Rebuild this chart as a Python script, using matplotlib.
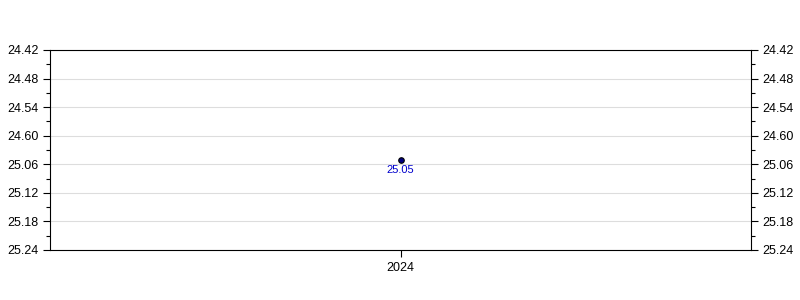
import matplotlib
matplotlib.use("Agg")
import matplotlib.pyplot as plt
from matplotlib.ticker import FixedLocator, MultipleLocator

plt.rcParams['font.family'] = ['Liberation Sans', 'DejaVu Sans']

# times in seconds, labels use the chart's own "min.sec" style
years = ['2024']
times_sec = [25 * 60 + 5]
time_labels = ['25.05']
ytick_sec = [1482, 1488, 1494, 1500, 1506, 1512, 1518, 1524]
ytick_labels = ['24.42', '24.48', '24.54', '24.60', '25.06', '25.12', '25.18', '25.24']

fig = plt.figure(figsize=(8, 3), dpi=100)
ax = fig.add_axes([50 / 800, 50 / 300, 701 / 800, 200 / 300])

xs = list(range(len(years)))
ax.scatter(xs, times_sec, s=16, color='#000080', edgecolor='black', linewidth=0.8, zorder=3)
for x, t, lab in zip(xs, times_sec, time_labels):
    ax.annotate(lab, (x, t), xytext=(0, -7.5), textcoords='offset points',
                ha='center', va='center', fontsize=8, color='#0000cc')

ax.set_xlim(-0.5, len(years) - 0.5)
ax.set_xticks(xs)
ax.set_xticklabels(years)
ax.set_ylim(ytick_sec[-1], ytick_sec[0])
ax.yaxis.set_major_locator(FixedLocator(ytick_sec))
ax.set_yticklabels(ytick_labels)
ax.yaxis.set_minor_locator(MultipleLocator(3))

ax.grid(axis='y', color='#dddddd', linewidth=0.8)
ax.set_axisbelow(True)
for s in ax.spines.values():
    s.set_linewidth(0.8)

ax.tick_params(axis='both', which='major', length=5, width=0.8, labelsize=9, colors='black')
ax.tick_params(axis='y', which='both', left=True, right=True, labelleft=True, labelright=True)
ax.tick_params(axis='y', which='minor', length=3, width=0.8)
ax.tick_params(axis='x', which='minor', bottom=False)

fig.savefig('out.png', dpi=100)
